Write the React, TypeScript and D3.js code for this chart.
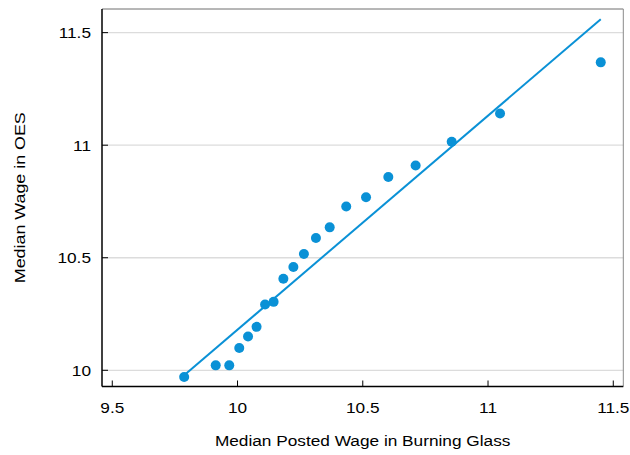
import React from "react";
import * as d3 from "d3";

// Data: median posted wage (Burning Glass) vs median wage (OES), log scale bins
const postedWage = [
  9.787, 9.913, 9.967, 10.007, 10.042, 10.076, 10.110, 10.144, 10.183, 10.223,
  10.265, 10.313, 10.368, 10.434, 10.513, 10.602, 10.711, 10.855, 11.048, 11.450,
];
const oesWage = [
  9.970, 10.022, 10.022, 10.099, 10.150, 10.193, 10.292, 10.304, 10.407, 10.459,
  10.517, 10.588, 10.635, 10.728, 10.769, 10.859, 10.910, 11.015, 11.141, 11.368,
];
const fitIntercept = 0.6705;
const fitSlope = 0.951;
const xTicks = [9.5, 10, 10.5, 11, 11.5];
const yTicks = [10, 10.5, 11, 11.5];
const xTickLabels = ["9.5", "10", "10.5", "11", "11.5"];
const yTickLabels = ["10", "10.5", "11", "11.5"];
const xTitle = "Median Posted Wage in Burning Glass";
const yTitle = "Median Wage in OES";

const W = 630;
const H = 455;
const L = 102, R = 623.3, T = 9, B = 386.5;
const BLUE = "#0a91d6";
const FONT = "'Liberation Sans', Arial, Helvetica, sans-serif";
const SX = 1.12;

export default function App() {
  const x = d3.scaleLinear().domain([9.459, 11.54]).range([L, R]);
  const y = d3.scaleLinear().domain([9.928, 11.605]).range([B, T]);
  const x0 = d3.min(postedWage) as number;
  const x1 = d3.max(postedWage) as number;
  const line = d3.line<number>()
    .x((v) => x(v))
    .y((v) => y(fitIntercept + fitSlope * v));

  return (
    <svg
      width={W}
      height={H}
      style={{ position: "absolute", left: 0, top: 0, background: "#fff" }}
      fontFamily={FONT}
    >
      <rect x={0} y={0} width={W} height={H} fill="#fff" />
      {/* gridlines */}
      {yTicks.map((t) => (
        <line key={"g" + t} x1={L} x2={R} y1={y(t)} y2={y(t)} stroke="#dcdcdc" strokeWidth={1.3} />
      ))}
      {/* frame */}
      <line x1={L} x2={R} y1={T} y2={T} stroke="#6e6e6e" strokeWidth={1} />
      <line x1={R} x2={R} y1={T} y2={B} stroke="#8a8a8a" strokeWidth={1} />
      <line x1={L} x2={L} y1={T} y2={B} stroke="#000" strokeWidth={1.5} />
      <line x1={L} x2={R} y1={B} y2={B} stroke="#000" strokeWidth={1.5} />
      {/* ticks */}
      {yTicks.map((t) => (
        <line key={"yt" + t} x1={L} x2={L + 6} y1={y(t)} y2={y(t)} stroke="#000" strokeWidth={1} />
      ))}
      {xTicks.map((t) => (
        <line key={"xt" + t} x1={x(t)} x2={x(t)} y1={B} y2={B - 6} stroke="#000" strokeWidth={1} />
      ))}
      {/* tick labels */}
      {xTicks.map((t, i) => (
        <text
          key={"xl" + t}
          transform={`translate(${x(t)},${412.5}) scale(${SX},1)`}
          textAnchor="middle"
          fontSize={15.4}
          fill="#000"
        >
          {xTickLabels[i]}
        </text>
      ))}
      {yTicks.map((t, i) => (
        <text
          key={"yl" + t}
          transform={`translate(${91},${y(t) + 5.5}) scale(${SX},1)`}
          textAnchor="end"
          fontSize={15.4}
          fill="#000"
        >
          {yTickLabels[i]}
        </text>
      ))}
      {/* axis titles */}
      <text
        transform={`translate(${(L + R) / 2},${446}) scale(${SX},1)`}
        textAnchor="middle"
        fontSize={15.4}
        fill="#000"
      >
        {xTitle}
      </text>
      <text
        transform={`translate(${24.6},${(T + B) / 2}) rotate(-90) scale(1.16,1)`}
        textAnchor="middle"
        fontSize={15.4}
        fill="#000"
      >
        {yTitle}
      </text>
      {/* fit line */}
      <path d={line([x0, x1]) as string} fill="none" stroke={BLUE} strokeWidth={2} />
      {/* points */}
      {postedWage.map((v, i) => (
        <circle key={"p" + i} cx={x(v)} cy={y(oesWage[i])} r={5} fill={BLUE} />
      ))}
    </svg>
  );
}
